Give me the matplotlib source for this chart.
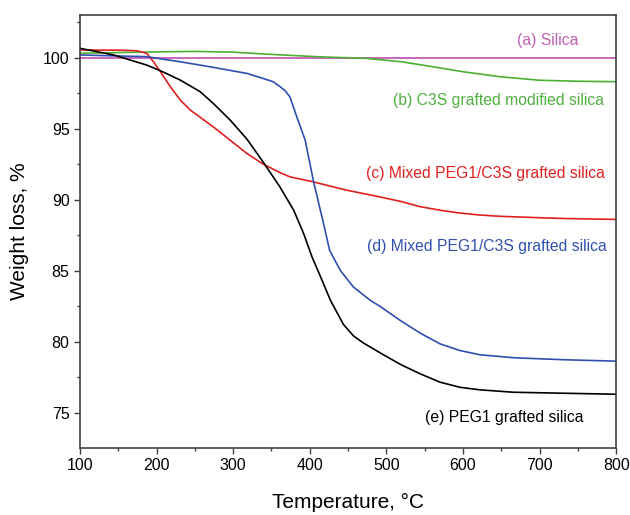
import matplotlib.pyplot as plt

plt.rcParams['font.family'] = ['Liberation Sans', 'DejaVu Sans']

# TGA curves
temp_a = [100, 800]
silica = [100.0, 100.0]

temp_b = [100, 150, 200, 250, 300, 340, 387, 413, 474, 520, 561, 600, 648, 700, 750, 800]
c3s = [100.3, 100.35, 100.4, 100.43, 100.38, 100.25, 100.12, 100.05, 99.94, 99.7,
       99.35, 99.0, 98.65, 98.4, 98.33, 98.3]

temp_c = [100, 150, 174, 187, 196, 205, 218, 231, 244, 274, 296, 318, 339, 361,
          374, 405, 427, 448, 492, 520, 544, 570, 596, 620, 648, 700, 736, 800]
mixed_c = [100.53, 100.52, 100.48, 100.3, 99.7, 99.0, 97.94, 97.0, 96.3, 95.12,
           94.18, 93.24, 92.5, 91.9, 91.6, 91.24, 90.94, 90.66, 90.18, 89.85, 89.5,
           89.25, 89.05, 88.92, 88.82, 88.72, 88.66, 88.6]

temp_d = [100, 187, 231, 274, 318, 339, 352, 361, 368, 374, 383, 394, 405, 418, 426,
          440, 457, 479, 492, 518, 544, 570, 596, 622, 666, 731, 800]
mixed_d = [100.18, 100.06, 99.7, 99.31, 98.88, 98.53, 98.3, 97.96, 97.65, 97.24,
           95.83, 94.18, 91.24, 88.3, 86.4, 85.0, 83.84, 82.9, 82.47, 81.49, 80.6,
           79.84, 79.37, 79.07, 78.86, 78.72, 78.62]

temp_e = [100, 144, 187, 205, 231, 257, 274, 296, 318, 339, 361, 379, 392, 403,
          413, 427, 444, 457, 470, 492, 518, 544, 570, 596, 622, 666, 731, 800]
peg1 = [100.65, 100.18, 99.47, 99.07, 98.41, 97.59, 96.77, 95.6, 94.25, 92.65,
        90.89, 89.25, 87.6, 85.95, 84.7, 82.9, 81.2, 80.4, 79.9, 79.2, 78.4, 77.73,
        77.14, 76.78, 76.6, 76.43, 76.36, 76.29]

fig = plt.figure(figsize=(6.3, 5.15), dpi=100)
ax = fig.add_axes([0.127, 0.13, 0.851, 0.841])

ax.plot(temp_a, silica, color='#c04fb0', lw=1.2)
ax.plot(temp_b, c3s, color='#4cb030', lw=1.2)
ax.plot(temp_c, mixed_c, color='#e02020', lw=1.2)
ax.plot(temp_d, mixed_d, color='#2f4fb0', lw=1.2)
ax.plot(temp_e, peg1, color='black', lw=1.2)

fs = 11.3
ax.text(710, 101.18, '(a) Silica', color='#c060b0', fontsize=fs, ha='center', va='center')
ax.text(647, 97.0, '(b) C3S grafted modified silica', color='#50b040', fontsize=fs,
        ha='center', va='center')
ax.text(630, 91.83, '(c) Mixed PEG1/C3S grafted silica', color='#e02020', fontsize=fs,
        ha='center', va='center')
ax.text(631, 86.66, '(d) Mixed PEG1/C3S grafted silica', color='#3050b0', fontsize=fs,
        ha='center', va='center')
ax.text(654, 74.67, '(e) PEG1 grafted silica', color='black', fontsize=fs,
        ha='center', va='center')

ax.set_xlim(100, 800)
ax.set_ylim(72.5, 103)
ax.set_xticks(range(100, 801, 100))
ax.set_xticks(range(150, 800, 100), minor=True)
ax.set_yticks(range(75, 101, 5))
ax.set_yticks([77.5, 82.5, 87.5, 92.5, 97.5, 102.5], minor=True)
ax.tick_params(direction='out', labelsize=11.5, length=4, width=1, color='#404040')
ax.tick_params(which='minor', length=2.5, width=1, color='#404040')
for s in ax.spines.values():
    s.set_color('#404040')
    s.set_linewidth(1.2)

ax.set_xlabel('Temperature, °C', fontsize=15, labelpad=14)
ax.set_ylabel('Weight loss, %', fontsize=15, labelpad=10)

fig.savefig('out.png', dpi=100)
